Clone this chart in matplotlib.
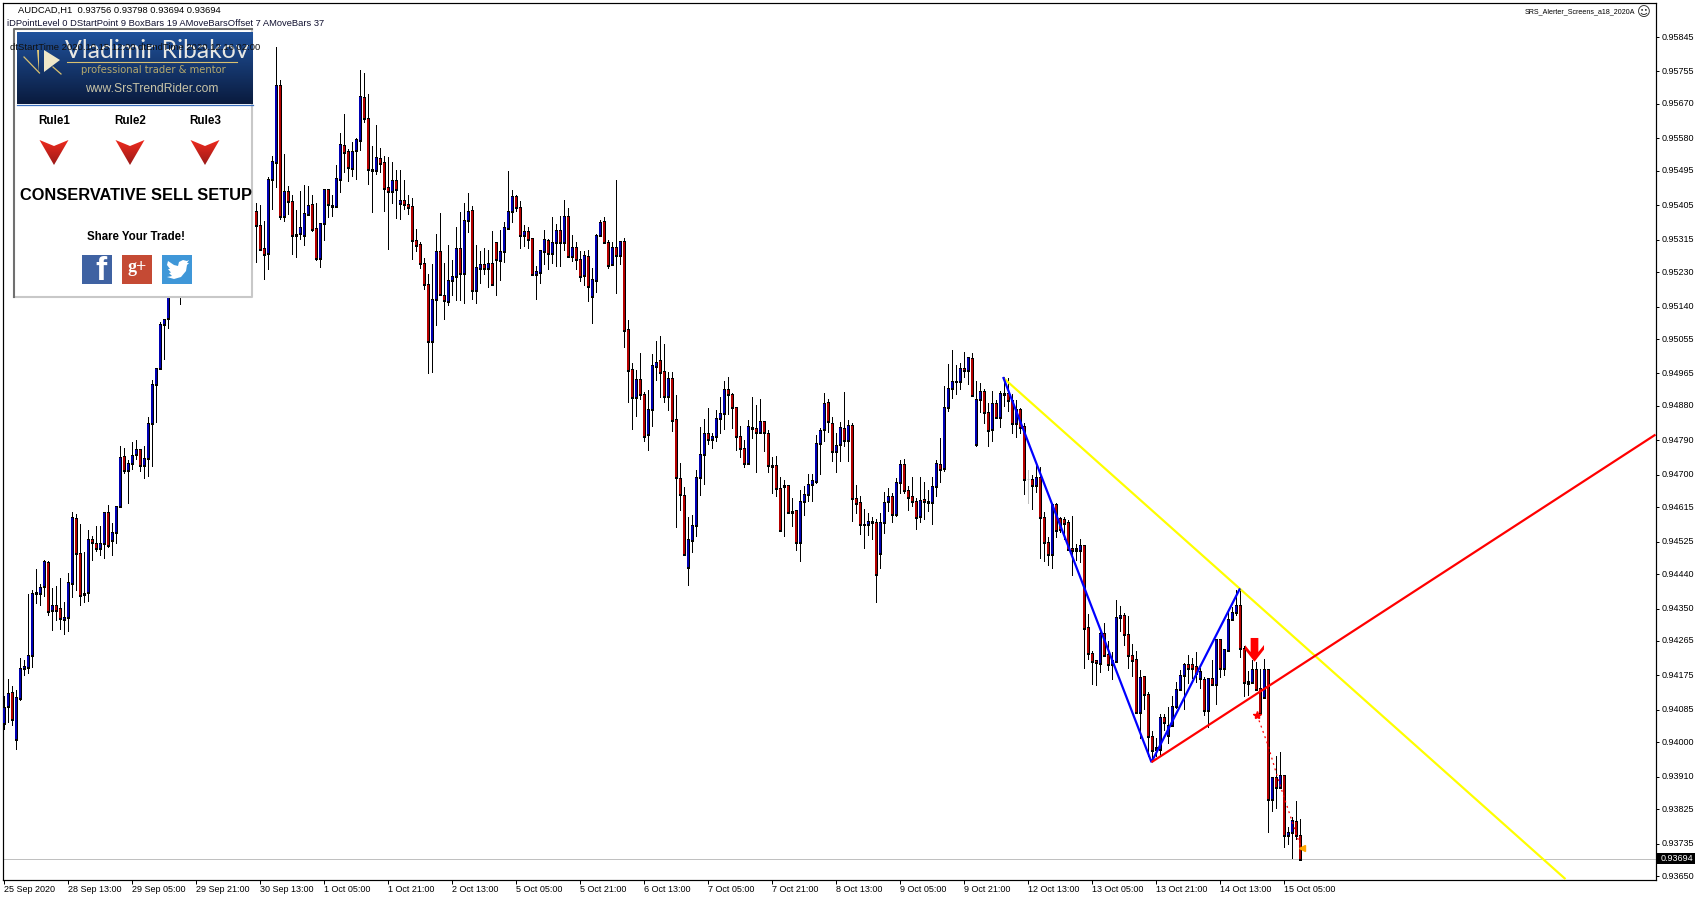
import numpy as np
import matplotlib
matplotlib.use("Agg")
import matplotlib.pyplot as plt
from matplotlib.patches import Rectangle, Polygon
from matplotlib.path import Path
from matplotlib.transforms import ScaledTranslation

nan = float("nan")

# AUDCAD H1, prices in points (1e-5). Bars behind the panel cannot be read, left as nan
opens = [
    94050, 94093, 94131, 94008, 94114, 94194, 94195, 94227, 94388, 94390,
    94407, 94471, 94345, 94359, 94351, 94320, 94326, 94415, 94586, 94494,
    94386, 94392, 94531, 94520, 94506, 94519, 94601, 94527, 94548, 94616,
    94749, 94710, 94729, 94752, 94766, 94723, 94742, 94833, 94935, 94977,
    95092, 95108, nan, nan, 95190, nan, nan, nan, nan, nan,
    nan, nan, nan, nan, nan, nan, nan, nan, nan, nan,
    nan, nan, nan, 95389, 95352, 95292, 95279, 95473, 95517, 95719,
    95375, 95441, 95415, 95329, 95330, 95325, 95381, 95408, 95344, 95265,
    95356, 95445, 95401, 95401, 95473, 95561, 95545, 95500, 95548, 95574,
    95687, 95632, 95499, 95495, 95527, 95517, 95452, 95440, 95470, 95409,
    95418, 95407, 95402, 95313, 95302, 95253, 95198, 95048, 95159, 95284,
    95169, 95152, 95208, 95218, 95292, 95226, 95364, 95391, 95181, 95239,
    95250, 95239, 95253, 95308, 95260, 95283, 95345, 95388, 95429, 95399,
    95325, 95336, 95318, 95223, 95228, 95285, 95313, 95278, 95307, 95339,
    95307, 95376, 95270, 95295, 95263, 95221, 95271, 95166, 95208, 95327,
    95363, 95308, 95249, 95295, 95273, 95309, 95079, 94976, 94902, 94950,
    94911, 94805, 94871, 94983, 95000, 94971, 94904, 94952, 94845, 94691,
    94646, 94457, 94529, 94567, 94693, 94754, 94808, 94792, 94801, 94847,
    94860, 94924, 94911, 94877, 94801, 94769, 94729, 94822, 94822, 94810,
    94838, 94809, 94723, 94725, 94665, 94673, 94671, 94604, 94606, 94522,
    94630, 94648, 94674, 94681, 94781, 94818, 94890, 94835, 94761, 94779,
    94822, 94789, 94829, 94638, 94628, 94569, 94570, 94575, 94576, 94494,
    94576, 94630, 94644, 94596, 94679, 94727, 94659, 94643, 94631, 94590,
    94636, 94628, 94627, 94669, 94727, 94716, 94876, 94925, 94943, 94944,
    94979, 94972, 95005, 94778, 94897, 94918, 94863, 94818, 94887, 94849,
    94910, 94913, 94894, 94833, 94871, 94826, 94688, 94688, 94672, 94693,
    94589, 94523, 94491, 94622, 94585, 94583, 94575, 94507, 94503, 94503,
    94515, 94300, 94232, 94214, 94205, 94285, 94230, 94204, 94212, 94326,
    94332, 94282, 94227, 94217, 94077, 94172, 94126, 94015, 93982, 93980,
    94065, 94019, 94044, 94093, 94137, 94176, 94204, 94203, 94198, 94167,
    94165, 94083, 94167, 94151, 94269, 94193, 94241, 94322, 94340, 94359,
    94246, 94158, 94156, 94191, 94141, 94117, 94191, 93851, 93908, 93881,
    93914, 93755, 93765, 93794, 93756,
]
highs = [
    94120, 94166, 94148, 94137, 94220, 94216, 94388, 94399, 94453, 94414,
    94477, 94474, 94403, 94409, 94430, 94366, 94444, 94603, 94597, 94571,
    94499, 94555, 94540, 94566, 94566, 94601, 94621, 94573, 94617, 94775,
    94771, 94738, 94785, 94792, 94766, 94775, 94850, 94949, 94978, 95100,
    95106, 95190, nan, nan, 95230, nan, nan, nan, nan, nan,
    nan, nan, nan, nan, nan, nan, nan, nan, nan, nan,
    nan, nan, nan, 95410, 95405, 95364, 95478, 95534, 95818, 95732,
    95539, 95455, 95433, 95392, 95442, 95459, 95456, 95433, 95410, 95359,
    95445, 95445, 95432, 95510, 95593, 95645, 95551, 95571, 95580, 95759,
    95750, 95695, 95561, 95615, 95554, 95534, 95532, 95517, 95497, 95497,
    95471, 95432, 95423, 95343, 95309, 95266, 95225, 95251, 95329, 95384,
    95253, 95301, 95261, 95349, 95388, 95412, 95436, 95404, 95301, 95285,
    95292, 95288, 95337, 95308, 95340, 95361, 95494, 95445, 95432, 95415,
    95353, 95347, 95318, 95246, 95288, 95340, 95316, 95375, 95356, 95377,
    95420, 95398, 95327, 95310, 95286, 95286, 95288, 95241, 95329, 95366,
    95373, 95314, 95310, 95471, 95312, 95319, 95106, 94992, 94974, 95018,
    94917, 94922, 95016, 95050, 95063, 95042, 94970, 94970, 94909, 94730,
    94667, 94590, 94595, 94713, 94824, 94845, 94874, 94808, 94870, 94903,
    94944, 94955, 94913, 94877, 94828, 94791, 94843, 94903, 94883, 94897,
    94840, 94817, 94746, 94749, 94693, 94686, 94673, 94638, 94608, 94660,
    94671, 94702, 94701, 94804, 94822, 94913, 94897, 94852, 94808, 94839,
    94916, 94842, 94836, 94673, 94645, 94610, 94599, 94589, 94584, 94601,
    94654, 94665, 94652, 94691, 94739, 94740, 94671, 94693, 94638, 94693,
    94680, 94660, 94695, 94739, 94795, 94932, 94990, 95027, 94986, 94992,
    95020, 95009, 95018, 94944, 94939, 94924, 94887, 94920, 94896, 94920,
    94955, 94952, 94911, 94896, 94874, 94835, 94713, 94698, 94728, 94721,
    94603, 94538, 94625, 94625, 94590, 94590, 94581, 94592, 94520, 94533,
    94515, 94335, 94238, 94214, 94289, 94313, 94265, 94237, 94372, 94356,
    94337, 94330, 94257, 94238, 94189, 94172, 94131, 94030, 94010, 94074,
    94074, 94093, 94121, 94159, 94189, 94208, 94228, 94220, 94237, 94194,
    94172, 94167, 94215, 94269, 94269, 94242, 94346, 94355, 94399, 94399,
    94253, 94187, 94215, 94211, 94191, 94217, 94191, 93910, 93963, 93974,
    93914, 93779, 93804, 93847, 93798,
]
lows = [
    94034, 94054, 94046, 93982, 94111, 94176, 94181, 94198, 94364, 94360,
    94383, 94332, 94294, 94320, 94297, 94282, 94290, 94381, 94399, 94358,
    94366, 94370, 94477, 94500, 94490, 94483, 94512, 94490, 94522, 94616,
    94705, 94625, 94715, 94741, 94710, 94692, 94696, 94723, 94839, 94977,
    95003, 95084, nan, nan, 95147, nan, nan, nan, nan, nan,
    nan, nan, nan, nan, nan, nan, nan, nan, nan, nan,
    nan, nan, nan, 95257, 95289, 95213, 95239, 95394, 95452, 95368,
    95365, 95382, 95278, 95270, 95316, 95302, 95381, 95338, 95263, 95244,
    95314, 95373, 95377, 95401, 95440, 95493, 95469, 95482, 95473, 95549,
    95622, 95461, 95388, 95486, 95493, 95391, 95291, 95410, 95372, 95370,
    95395, 95381, 95265, 95286, 95241, 95187, 94965, 94969, 95092, 95171,
    95108, 95144, 95170, 95157, 95157, 95150, 95336, 95160, 95150, 95202,
    95225, 95190, 95197, 95170, 95209, 95257, 95342, 95361, 95389, 95293,
    95298, 95293, 95222, 95160, 95202, 95251, 95239, 95255, 95246, 95246,
    95289, 95270, 95259, 95237, 95207, 95196, 95155, 95098, 95179, 95327,
    95308, 95242, 95249, 95176, 95251, 95035, 94889, 94819, 94854, 94899,
    94789, 94765, 94828, 94948, 94904, 94889, 94870, 94815, 94564, 94608,
    94491, 94412, 94499, 94540, 94647, 94676, 94781, 94769, 94787, 94810,
    94820, 94859, 94823, 94765, 94747, 94719, 94727, 94797, 94706, 94810,
    94761, 94708, 94653, 94645, 94554, 94540, 94599, 94566, 94503, 94473,
    94595, 94630, 94630, 94678, 94702, 94789, 94813, 94737, 94708, 94736,
    94775, 94737, 94580, 94599, 94545, 94509, 94543, 94531, 94368, 94455,
    94547, 94604, 94577, 94593, 94653, 94653, 94608, 94618, 94557, 94576,
    94585, 94606, 94570, 94645, 94680, 94711, 94868, 94902, 94911, 94924,
    94955, 94938, 94906, 94774, 94865, 94836, 94776, 94787, 94848, 94824,
    94880, 94868, 94810, 94798, 94808, 94650, 94627, 94611, 94656, 94481,
    94473, 94464, 94456, 94538, 94551, 94531, 94503, 94437, 94476, 94472,
    94195, 94217, 94152, 94150, 94184, 94226, 94189, 94166, 94212, 94291,
    94254, 94195, 94173, 94077, 94010, 94088, 93964, 93954, 93963, 93963,
    94032, 93999, 94044, 94089, 94137, 94087, 94156, 94167, 94159, 94141,
    94072, 94041, 94150, 94099, 94170, 94176, 94240, 94320, 94333, 94222,
    94122, 94124, 94156, 94137, 94074, 94115, 93766, 93821, 93827, 93880,
    93727, 93734, 93697, 93746, 93694,
]
closes = [
    94092, 94128, 94060, 94118, 94194, 94199, 94228, 94390, 94392, 94406,
    94474, 94342, 94359, 94346, 94325, 94327, 94419, 94588, 94494, 94384,
    94390, 94531, 94522, 94506, 94520, 94601, 94514, 94549, 94617, 94745,
    94710, 94730, 94751, 94766, 94723, 94743, 94834, 94936, 94978, 95093,
    95106, 95180, nan, nan, 95220, nan, nan, nan, nan, nan,
    nan, nan, nan, nan, nan, nan, nan, nan, nan, nan,
    nan, nan, nan, 95351, 95289, 95276, 95473, 95520, 95719, 95375,
    95441, 95414, 95326, 95325, 95348, 95384, 95404, 95341, 95265, 95357,
    95445, 95406, 95405, 95475, 95564, 95542, 95503, 95546, 95578, 95690,
    95631, 95498, 95495, 95530, 95513, 95449, 95440, 95470, 95445, 95418,
    95407, 95398, 95313, 95300, 95253, 95198, 95048, 95159, 95284, 95171,
    95155, 95208, 95219, 95292, 95226, 95365, 95389, 95181, 95242, 95250,
    95239, 95253, 95197, 95262, 95284, 95347, 95389, 95428, 95398, 95325,
    95336, 95315, 95223, 95232, 95287, 95316, 95278, 95308, 95339, 95307,
    95376, 95270, 95295, 95264, 95218, 95274, 95192, 95211, 95327, 95361,
    95308, 95248, 95295, 95273, 95309, 95078, 94972, 94902, 94950, 94911,
    94800, 94871, 94985, 94994, 94968, 94904, 94952, 94842, 94693, 94648,
    94491, 94531, 94568, 94693, 94754, 94808, 94792, 94801, 94848, 94861,
    94924, 94910, 94876, 94800, 94768, 94729, 94826, 94824, 94810, 94840,
    94810, 94724, 94721, 94664, 94554, 94669, 94601, 94602, 94522, 94631,
    94649, 94675, 94686, 94782, 94817, 94887, 94839, 94761, 94777, 94824,
    94789, 94829, 94638, 94625, 94570, 94571, 94578, 94577, 94439, 94576,
    94628, 94644, 94596, 94680, 94727, 94658, 94640, 94630, 94588, 94633,
    94630, 94631, 94670, 94730, 94713, 94877, 94926, 94945, 94945, 94979,
    94972, 95006, 94907, 94897, 94918, 94863, 94815, 94887, 94849, 94913,
    94913, 94894, 94833, 94871, 94824, 94687, 94686, 94672, 94693, 94588,
    94522, 94491, 94623, 94555, 94558, 94573, 94505, 94501, 94507, 94515,
    94297, 94231, 94211, 94208, 94285, 94226, 94204, 94215, 94327, 94332,
    94281, 94226, 94213, 94077, 94170, 94124, 94015, 93978, 93986, 94065,
    94051, 94045, 94093, 94137, 94175, 94204, 94193, 94193, 94181, 94185,
    94083, 94167, 94152, 94269, 94194, 94242, 94322, 94340, 94359, 94246,
    94157, 94154, 94191, 94139, 94076, 94191, 93851, 93908, 93881, 93912,
    93756, 93765, 93796, 93756, 93694,
]
grey_bars = [256]

ytick_labels = [
    "0.95845", "0.95755", "0.95670", "0.95580", "0.95495", "0.95405", "0.95315",
    "0.95230", "0.95140", "0.95055", "0.94965", "0.94880", "0.94790", "0.94700",
    "0.94615", "0.94525", "0.94440", "0.94350", "0.94265", "0.94175", "0.94085",
    "0.94000", "0.93910", "0.93825", "0.93735", "0.93650",
]
xtick_labels = [
    "25 Sep 2020", "28 Sep 13:00", "29 Sep 05:00", "29 Sep 21:00", "30 Sep 13:00",
    "1 Oct 05:00", "1 Oct 21:00", "2 Oct 13:00", "5 Oct 05:00", "5 Oct 21:00",
    "6 Oct 13:00", "7 Oct 05:00", "7 Oct 21:00", "8 Oct 13:00", "9 Oct 05:00",
    "9 Oct 21:00", "12 Oct 13:00", "13 Oct 05:00", "13 Oct 21:00", "14 Oct 13:00",
    "15 Oct 05:00",
]
xtick_step = 16
last_price = 0.93694

# pattern lines, bar index and price
yellow_x = [250, 390.5]
yellow_y = [0.94953, 0.93642]
blue_x = [250, 287, 309]
blue_y = [0.94953, 0.93948, 0.94400]
red_x = [287, 413]
red_y = [0.93948, 0.94805]
path_x = [313.4, 316.1, 318.2, 319.8, 321.9, 323.4, 324.5]
path_y = [0.94071, 0.93993, 0.93919, 0.93867, 0.93801, 0.93753, 0.93723]
arrow_x, arrow_y = 312.7, 0.94230

plt.rcParams["font.family"] = ["Liberation Sans", "DejaVu Sans"]
UI_SIZE = 6.5
PX = 0.72  # one pixel in points at dpi 100
ONE_PX_PRICE = 2.616e-5

W, H = 1700, 900
fig = plt.figure(figsize=(17, 9), dpi=100, facecolor="white")
ax = fig.add_axes([2.5 / W, (H - 879.5) / H, 1653 / W, 877 / H])
ax.set_xlim(-0.25, 413)
ax.set_ylim(0.93641, 0.959355)

o = np.array(opens) / 1e5
h = np.array(highs) / 1e5
l = np.array(lows) / 1e5
c = np.array(closes) / 1e5
xs = np.arange(len(o))
top = np.maximum(o, c)
bot = np.minimum(o, c)
is_grey = np.isin(xs, grey_bars)

ax.axhline(last_price, color="#c0c0c0", lw=PX, zorder=1)

# candles: wick, black body 3px wide, coloured core in the middle
wick_col = ["#c0c0c0" if g else "black" for g in is_grey]
ax.vlines(xs, l, h, colors=wick_col, lw=PX, zorder=2, antialiased=False)
ax.vlines(xs[~is_grey], bot[~is_grey] - ONE_PX_PRICE / 2, top[~is_grey] + ONE_PX_PRICE / 2,
          colors="black", lw=3 * PX, zorder=3, antialiased=False)
core_col = np.where(c >= o, "#0000f0", "#f00000")
tall = (top - bot) > 1.6 * ONE_PX_PRICE
tall &= ~is_grey
ax.vlines(xs[tall], bot[tall] + ONE_PX_PRICE / 2, top[tall] - ONE_PX_PRICE / 2,
          colors=core_col[tall], lw=1.5 * PX, zorder=4)
ax.hlines(o[grey_bars], np.array(grey_bars) - 0.25, np.array(grey_bars) + 0.25,
          colors="#c0c0c0", lw=PX, zorder=3)

# pattern lines
ax.plot(yellow_x, yellow_y, color="#ffff00", lw=1.6, zorder=5, solid_capstyle="butt")
ax.plot(blue_x, blue_y, color="#0000ff", lw=1.6, zorder=6, solid_joinstyle="miter")
ax.plot(red_x, red_y, color="#ff0000", lw=1.6, zorder=7, solid_capstyle="butt")
ax.plot(path_x, path_y, color="#ff0000", lw=0.9, ls=(0, (1.5, 3)), zorder=7)
ax.plot(path_x[0], path_y[0], marker="*", color="#ff0000", ms=6, zorder=8)
ax.plot(path_x[-1], path_y[-1], marker="<", color="#ffa500", ms=5, zorder=8)

down_arrow = Path([(-0.233, 1), (0.233, 1), (0.233, 0.15), (0.576, 0.576), (0.576, 0.3), (0, -0.436),
                   (-0.576, 0.3), (-0.576, 0.576), (-0.233, 0.15), (-0.233, 1)])
ax.plot(arrow_x, arrow_y, marker=down_arrow, color="#ff0000", mec="#ff0000", mew=0, ms=23.8, zorder=9)

# axes
for s in ax.spines.values():
    s.set_linewidth(PX * 1.2)
ax.yaxis.tick_right()
ax.set_yticks([float(v) for v in ytick_labels])
ax.set_yticklabels(ytick_labels, fontsize=UI_SIZE)
ax.tick_params(axis="y", direction="out", length=2.2, width=PX, pad=2.5)
ax.set_xticks(xs[:len(xtick_labels) * xtick_step:xtick_step])
ax.set_xticklabels(xtick_labels, fontsize=UI_SIZE, ha="left")
ax.tick_params(axis="x", direction="out", length=2.8, width=PX, pad=1)
up_one = ScaledTranslation(0, 1 / 100, fig.dpi_scale_trans)
for lab in ax.get_yticklabels():
    lab.set_transform(lab.get_transform() + up_one)

# overlay in pixel coordinates: chart comments and the trade panel
ov = fig.add_axes([0, 0, 1, 1], zorder=10)
ov.patch.set_alpha(0)
ov.axis("off")


def gradient(box, top_col, bottom_col, clip=None, z=2):
    c0 = np.array(matplotlib.colors.to_rgb(top_col))
    c1 = np.array(matplotlib.colors.to_rgb(bottom_col))
    t = np.linspace(0, 1, 64)[:, None, None]
    im = ov.imshow(c0 * (1 - t) + c1 * t, extent=box, aspect="auto", zorder=z,
                   interpolation="bilinear")
    if clip is not None:
        im.set_clip_path(clip)
    return im


ov.text(18, 10.7, "AUDCAD,H1  0.93756 0.93798 0.93694 0.93694", fontsize=UI_SIZE + 0.22, va="center", color="black")
ov.text(7, 23.7, "iDPointLevel 0 DStartPoint 9 BoxBars 19 AMoveBarsOffset 7 AMoveBars 37",
        fontsize=UI_SIZE + 0.22, va="center", color="#101030")
ov.text(1635, 12, "SRS_Alerter_Screens_a18_2020A", fontsize=5.1, va="center", ha="right", color="black")
ov.text(1644, 12.5, "\u263a", fontsize=9.5, va="center", ha="center", color="#202020", family="DejaVu Sans")

# last price tag
ov.add_patch(Rectangle((1656, 853), 39, 10.5, facecolor="black", edgecolor="none", zorder=3))
ov.text(1660.5, 858.3, "0.93694", fontsize=UI_SIZE, va="center", color="white", zorder=4)

# panel
ov.add_patch(Rectangle((14, 29), 238.5, 267.5, facecolor="white", edgecolor="none", zorder=1))
ov.plot([252.3, 252.3, 14], [29, 296.5, 296.5], color="#c8c8c8", lw=1.5, zorder=2)
ov.plot([14, 14, 252.3], [296.5, 29.2, 29.2], color="#707070", lw=1.5, zorder=2)
gradient((17, 253, 104, 32), "#20529c", "#0a1b3e")
ov.plot([17, 253], [104.5, 104.5], color="#3a70c0", lw=0.9, zorder=3)
ov.plot([67, 237], [62, 62], color="#d8c070", lw=0.8, zorder=3)
# logo
ov.plot([24, 39.5], [57, 73], color="#d8c070", lw=0.9, zorder=3)
ov.add_patch(Polygon([(37, 50), (39.5, 50), (39.5, 73)], facecolor="#e0c878", edgecolor="none", zorder=3))
ov.add_patch(Polygon([(44, 50), (60, 60), (44, 72)], facecolor="#f0e8c8", edgecolor="none", zorder=3))
ov.plot([53, 61], [67, 74], color="#d8c070", lw=0.9, zorder=3)

ov.text(157, 50.5, "Vladimir Ribakov", fontsize=17.8, family="Lato", ha="center", va="center",
        color="#e8e8e4", zorder=4)
ov.text(153, 70, "professional trader & mentor", fontsize=7.2, family="DejaVu Sans", ha="center", va="center",
        color="#b4a86c", zorder=4)
ov.text(151.5, 89.3, "www.SrsTrendRider.com", fontsize=8.7, ha="center", va="center", color="#c8c4a8", zorder=4)
ov.text(10, 48, "dtStartTime 2020.10.15 12:00 dtEndTime 2020.12.16 02:00", fontsize=UI_SIZE + 0.3, va="center",
        color="#101010", zorder=5)

rule_names = ["Rule1", "Rule2", "Rule3"]
rule_x = [54, 130, 205]
for name, x0 in zip(rule_names, rule_x):
    ov.text(x0, 121, name, fontsize=8.4, weight="bold", ha="center", va="center", color="black", zorder=4)
    tri = Polygon([(x0 - 14.5, 140), (x0, 146), (x0 + 14.5, 140), (x0, 165)], transform=ov.transData,
                  facecolor="none", edgecolor="none")
    ov.add_patch(tri)
    gradient((x0 - 15, x0 + 15, 165, 140), "#ee2a1e", "#9a1a18", clip=tri, z=3)

ov.text(135.5, 195.8, "CONSERVATIVE SELL SETUP", fontsize=11.75, weight="bold", ha="center", va="center",
        color="black", zorder=4)
ov.text(135.7, 236.5, "Share Your Trade!", fontsize=8.3, weight="bold", ha="center", va="center",
        color="black", zorder=4)

# share buttons
ov.add_patch(Rectangle((82, 255), 30, 29, facecolor="#3f62a2", edgecolor="none", zorder=3))
ov.text(101, 272, "f", fontsize=24, weight="bold", ha="center", va="center", color="white", zorder=4)
ov.add_patch(Rectangle((122, 255), 30, 29, facecolor="#c54a34", edgecolor="none", zorder=3))
ov.text(137, 268, "g+", fontsize=13, family="Liberation Serif", weight="bold", ha="center", va="center",
        color="white", zorder=4)
ov.add_patch(Rectangle((162, 255), 30, 29, facecolor="#3f97d8", edgecolor="none", zorder=3))
ov.add_patch(Polygon([(168, 261), (174, 265), (178, 266), (179, 262), (183, 260), (187, 261), (189, 260),
                      (187, 263), (189, 263), (187, 265), (186, 271), (181, 277), (174, 279), (167, 277),
                      (172, 276), (169, 273), (171, 272.5), (168, 269), (170, 269), (167, 265)],
                     facecolor="white", edgecolor="none", zorder=4))

ov.set_xlim(0, W)
ov.set_ylim(H, 0)

fig.savefig("out.png", dpi=100)
